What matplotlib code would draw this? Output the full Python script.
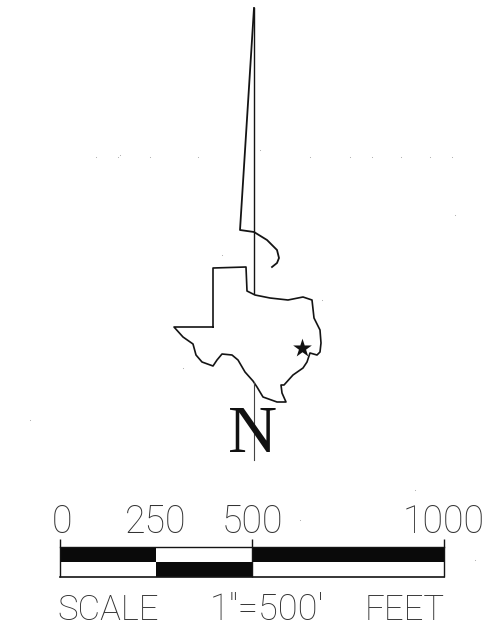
import matplotlib
matplotlib.use("Agg")
import matplotlib.pyplot as plt

W, H = 492, 637

# Texas outline (picture pixels)
texas_x = [213,213,246,247,255,270,288,303,312,314,320,321,320,317,310,307,303,293,284,281,282,286,277,263,257,253,245,238,232,222,217,213,202,196,193,183,174,213]
texas_y = [327,268,267,291,295,298,300,297,300,318,330,343,352,355,353,362,368,375,385,385,393,402,402,397,387,381,372,360,355,354,360,366,362,355,344,337,327,327]
# North arrow
needle_x = [254,240,254,267,277,279,277,272]
needle_y = [8,230,232,240,250,258,263,267]
shaft_top_y = [8,293]
shaft_bottom_y = [382,460]
shaft_x = [254,254]
star_x, star_y = [302],[348]
# Scale bar, in feet
top_left, top_width = [0,500],[250,500]
bottom_left, bottom_width = [250],[250]
tick_feet = [5,250,500,1000]
tick_labels = ['0','250','500','1000']
end_ticks = [0,500,1000]
# Scan specks
speck_x = [198,150,96,118,310,350,372,401,430,452,455,322,260,120,183,222,415,300,30,475]
speck_y = [157,157,157,157,157,157,157,157,157,157,215,300,150,155,368,255,490,520,420,560]

fig = plt.figure(figsize=(W/100,H/100), dpi=100)
ax = fig.add_axes([0,0,1,1])
ax.set_xlim(0,W); ax.set_ylim(H,0); ax.axis('off')
ink = '#141414'
ax.plot(texas_x,texas_y,color=ink,lw=1.2,solid_joinstyle='round')
ax.plot(needle_x,needle_y,color=ink,lw=1.3)
ax.plot(shaft_x,shaft_top_y,color=ink,lw=1.0)
ax.plot(shaft_x,shaft_bottom_y,color='#444444',lw=0.8)
ax.scatter(star_x,star_y,marker='*',s=200,color='#111111',linewidths=0,zorder=3)
ax.scatter(speck_x,speck_y,s=0.6,color='#aaaaaa',linewidths=0)
ax.text(253,452,'N',family='Liberation Serif',fontsize=49,ha='center',va='baseline',color='#111111')

thin = dict(family='Roboto',weight='light',color='#333333',va='baseline')
ax.text(57,620,'SCALE',fontsize=25,**thin)
ax.text(210,620,'1"=500\'',fontsize=26,**thin)
ax.text(365,620,'FEET',fontsize=25,**thin)

# scale bar axes: 0..1000 ft across px 60..444, px 539..577 vertically
bar = fig.add_axes([60/W,1-577/H,(444-60)/W,38/H])
bar.set_xlim(0,1000); bar.set_ylim(0,38); bar.axis('off')
bar.patch.set_alpha(0)
bar.broken_barh(list(zip(top_left,top_width)),(15,15),color='#0a0a0a',lw=0)
bar.broken_barh(list(zip(bottom_left,bottom_width)),(0,15),color='#0a0a0a',lw=0)
bar.plot([0,1000],[30,30],color=ink,lw=1,clip_on=False)
bar.plot([0,1000],[0,0],color=ink,lw=1.2,clip_on=False)
bar.vlines(end_ticks,0,38,color=ink,lw=1,clip_on=False)
for f,l in zip(tick_feet,tick_labels):
    bar.text(f,44,l,fontsize=27,ha='center',clip_on=False,**thin)

fig.savefig('out.png',dpi=100,facecolor='white')
